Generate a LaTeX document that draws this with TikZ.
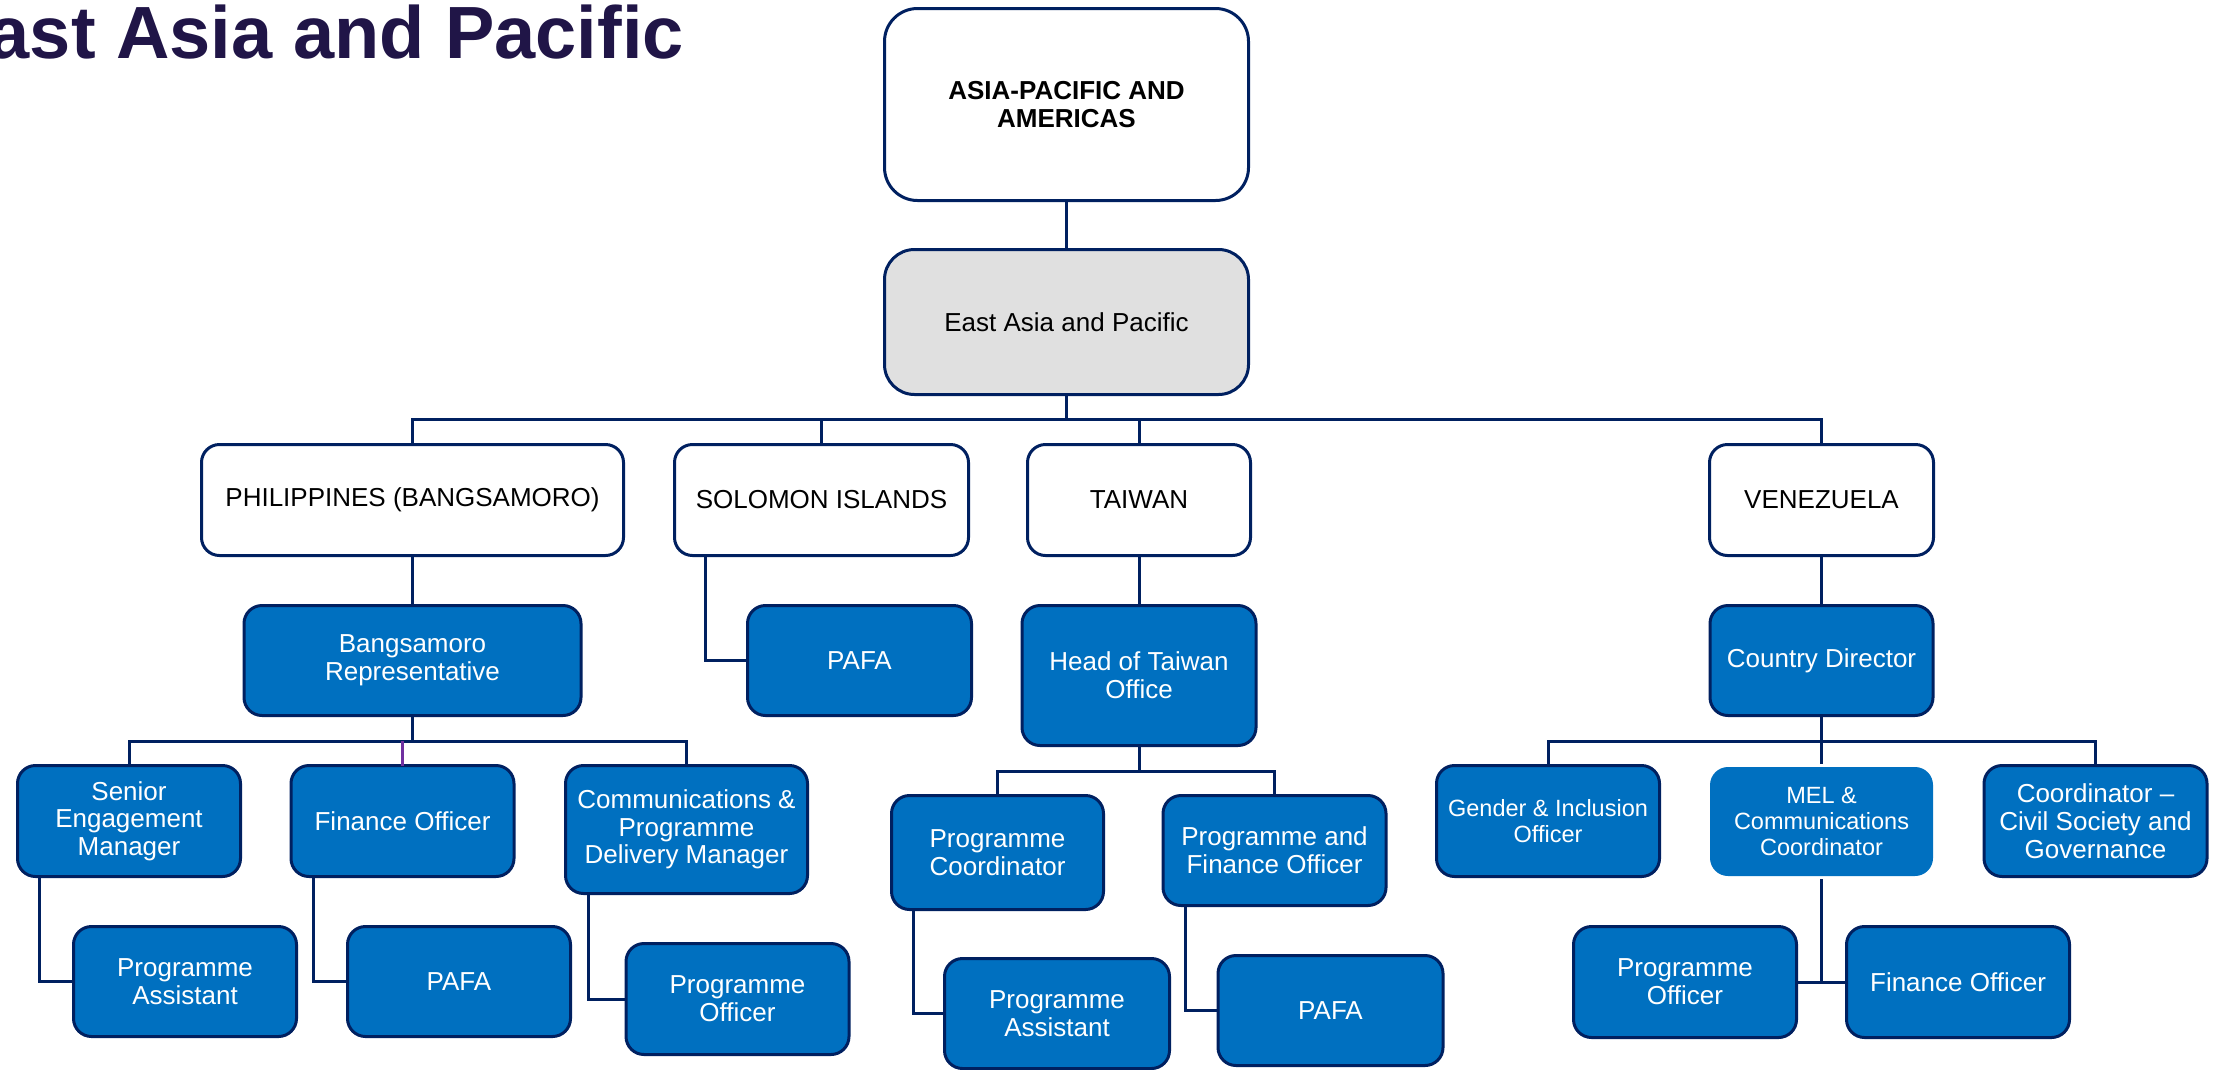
\documentclass[tikz,border=0pt]{standalone}
\usepackage{fontspec}
\setmainfont{Liberation Sans}
\usepackage{tikz}
\definecolor{navy}{HTML}{002060}
\definecolor{roleblue}{HTML}{0070C0}
\definecolor{greybox}{HTML}{E0E0E0}
\definecolor{plum}{HTML}{7030A0}
\definecolor{titlecol}{RGB}{32,21,71}
\newcommand{\boxfont}{\fontsize{26}{27.7}\selectfont}
\newcommand{\smallboxfont}{\fontsize{23.5}{26}\selectfont}
\tikzstyle{box}=[draw=navy, line width=3pt, align=center, inner sep=0, outer sep=0]
\tikzstyle{region}=[box, fill=white, rounded corners=33pt, minimum width=364pt, minimum height=192pt, font=\bfseries\boxfont]
\tikzstyle{subregion}=[box, fill=greybox, rounded corners=30pt, minimum width=364pt, minimum height=145pt, font=\boxfont]
\tikzstyle{country}=[box, fill=white, rounded corners=18pt, minimum height=111pt, font=\boxfont]
\tikzstyle{role}=[box, fill=roleblue, text=white, rounded corners=18pt, minimum width=223pt, minimum height=110pt, font=\boxfont]
\tikzstyle{link}=[draw=navy, line width=3pt]
\tikzstyle{orgchart}=[x=1pt, y=-1pt,
                      % Heading in the top left corner.
                      title/.style={font=\bfseries\fontsize{74}{80}\selectfont, text=titlecol, inner sep=0}]

\begin{document}
\begin{tikzpicture}[orgchart]
        \useasboundingbox (0, 0) rectangle (2221, 1069);
        \node[title, anchor=base east]                  (heading) at (684, 58) {East Asia and Pacific};
        \node[region]                                   (apac) at (1066.5, 104.5) {ASIA-PACIFIC AND\\AMERICAS};
        \node[subregion]                                (eap) at (1066.5, 322) {East Asia and Pacific};
        \node[country, minimum width=422pt]             (phil) at (412.5, 500) {PHILIPPINES (BANGSAMORO)};
        \node[country, minimum width=294pt]             (sol) at (821.5, 500) {SOLOMON ISLANDS};
        \node[country, minimum width=223pt]             (tai) at (1139, 500) {TAIWAN};
        \node[country, minimum width=224pt]             (ven) at (1821.5, 500) {VENEZUELA};
        \node[role, minimum width=337pt]                (bang) at (412.5, 660.5) {Bangsamoro\\Representative};
        \node[role, minimum width=224pt]                (solpafa) at (859.5, 660.5) {PAFA};
        \node[role, minimum width=234pt, minimum height=140pt] (head) at (1139, 675.5) {Head of Taiwan\\Office};
        \node[role]                                     (cd) at (1821.5, 660.5) {Country Director};
        \node[role, minimum height=111pt]               (sem) at (129, 821) {Senior\\Engagement\\Manager};
        \node[role, minimum height=111pt]               (fo) at (402.5, 821) {Finance Officer};
        \node[role, minimum width=242pt, minimum height=128pt] (cpdm) at (686.5, 829.5) {Communications \&\\Programme\\Delivery Manager};
        \node[role]                                     (pa1) at (185, 981.5) {Programme\\Assistant};
        \node[role]                                     (pafa1) at (459, 981.5) {PAFA};
        \node[role, minimum height=111pt]               (po1) at (737.5, 999) {Programme\\Officer};
        \node[role, minimum width=212pt, minimum height=114pt] (pc) at (997.5, 852.5) {Programme\\Coordinator};
        \node[role]                                     (pfo) at (1274.5, 850.5) {Programme and\\Finance Officer};
        \node[role, minimum width=225pt]                (pa2) at (1057, 1013.5) {Programme\\Assistant};
        \node[role, minimum width=225pt]                (pafa2) at (1330.5, 1010.5) {PAFA};
        \node[role, minimum height=111pt, font=\smallboxfont] (gio) at (1548, 821) {Gender \& Inclusion\\Officer};
        \node[role, draw=none, minimum height=109pt, font=\smallboxfont] (mel) at (1821.5, 821.5) {MEL \&\\Communications\\Coordinator};
        \node[role, minimum height=111pt]               (ccsg) at (2095.5, 821) {Coordinator --\\Civil Society and\\Governance};
        \node[role, minimum height=111pt]               (po2) at (1685, 982) {Programme\\Officer};
        \node[role, minimum height=111pt]               (fo2) at (1958, 982) {Finance Officer};
        \coordinate (busA) at (0, 419);
        \coordinate (busB) at (0, 741);
        \coordinate (busC) at (0, 771);
        \coordinate (busD) at (0, 982);
        \draw[link] (apac) -- (eap);
        \draw[link] (eap.south) -- (eap.south |- busA);
        \draw[link] (phil.north) |- (ven.north |- busA) -- (ven.north);
        \draw[link] (sol.north) -- (sol.north |- busA);
        \draw[link] (tai.north) -- (tai.north |- busA);
        \draw[link] (phil) -- (bang);
        \draw[link] (bang.south) -- (bang.south |- busB);
        \draw[link] (sem.north) |- (cpdm.north |- busB) -- (cpdm.north);
        \draw[link, draw=plum] (fo.north) -- (fo.north |- busB);
        \draw[link] ([xshift=22pt]sem.south west) |- (pa1.west);
        \draw[link] ([xshift=22pt]fo.south west) |- (pafa1.west);
        \draw[link] ([xshift=23pt]cpdm.south west) |- (po1.west);
        \draw[link] ([xshift=31pt]sol.south west) |- (solpafa.west);
        \draw[link] (tai) -- (head);
        \draw[link] (head.south) -- (head.south |- busC);
        \draw[link] (pc.north) |- (pfo.north |- busC) -- (pfo.north);
        \draw[link] ([xshift=22pt]pc.south west) |- (pa2.west);
        \draw[link] ([xshift=22pt]pfo.south west) |- (pafa2.west);
        \draw[link] (ven) -- (cd);
        \draw[link] (gio.north) |- (ccsg.north |- busB) -- (ccsg.north);
        \draw[link] (cd.south) -- ([yshift=3pt]mel.north);
        \draw[link] ([yshift=-3pt]mel.south) -- (mel.south |- busD);
        \draw[link] (po2.east) -- (fo2.west);
    \end{tikzpicture}
\end{document}
